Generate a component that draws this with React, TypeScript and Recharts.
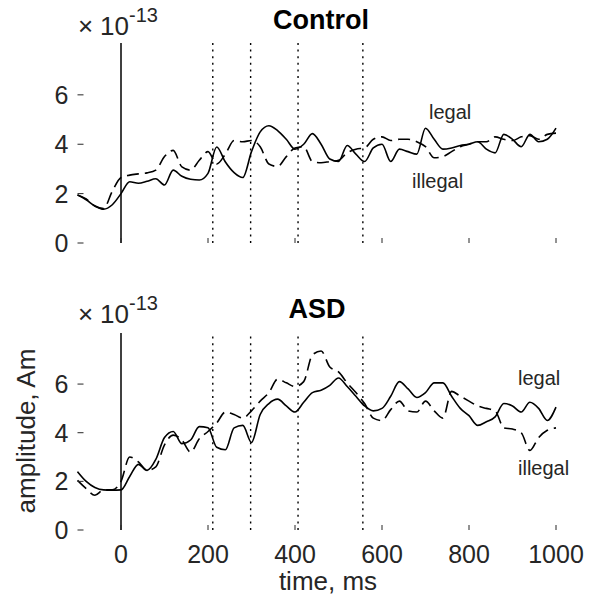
import React from 'react';
import { ComposedChart, Line, XAxis, YAxis, ReferenceLine } from 'recharts';

// time axis (ms) shared by all four traces
const times = [
  -100, -80, -60, -40, -20, 0, 20, 40, 60, 80, 100, 120, 140, 160, 180, 200,
  220, 240, 260, 280, 300, 320, 340, 360, 380, 400, 420, 440, 460, 480, 500,
  520, 540, 560, 580, 600, 620, 640, 660, 680, 700, 720, 740, 760, 780, 800,
  820, 840, 860, 880, 900, 920, 940, 960, 980, 1000,
];

// amplitudes in units of 1e-13 Am
const controlLegal = [
  1.95, 1.75, 1.5, 1.37, 1.55, 2.0, 2.48, 2.42, 2.5, 2.6, 2.35, 2.95, 2.7, 2.58, 2.55, 2.82,
  3.89, 3.28, 2.85, 2.65, 3.7, 4.5, 4.75, 4.55, 4.2, 3.8, 4.0, 4.43, 4.0, 3.4, 3.3,
  3.95, 3.6, 3.3, 3.85, 4.0, 3.3, 3.8, 3.7, 3.6, 4.65, 4.2, 3.8, 3.85, 3.95, 4.0,
  4.1, 3.8, 3.65, 4.4, 4.2, 3.9, 4.4, 4.1, 4.2, 4.65,
];
const controlIllegal = [
  1.94, 1.78, 1.5, 1.4, 2.1, 2.65, 2.75, 2.8, 2.84, 2.95, 3.5, 3.75, 3.08, 2.95, 3.35, 3.7,
  3.2, 3.6, 4.15, 4.1, 4.15, 3.9, 3.2, 3.1, 3.5, 3.85, 3.9, 3.3, 3.25, 3.3, 3.35,
  3.65, 3.8, 3.85, 4.2, 4.3, 4.15, 4.2, 4.2, 4.1, 3.9, 3.45, 3.5, 3.7, 3.9, 4.0,
  4.1, 4.1, 4.3, 4.2, 4.15, 4.3, 4.35, 4.2, 4.4, 4.45,
];
const asdLegal = [
  2.4, 2.0, 1.75, 1.65, 1.64, 1.65, 2.2, 2.7, 2.45, 2.9, 3.8, 4.05, 3.55, 3.7, 4.25, 4.2,
  3.4, 3.3, 4.2, 4.3, 3.6, 4.75, 5.2, 5.38, 5.1, 4.85, 5.25, 5.65, 5.75, 5.95, 6.25,
  5.9, 5.5, 5.1, 4.9, 5.0, 5.5, 6.1, 5.8, 5.45, 5.65, 6.05, 6.05, 5.5, 5.0, 4.7,
  4.3, 4.45, 4.65, 5.2, 5.1, 4.85, 5.25, 5.0, 4.5, 5.05,
];
const asdIllegal = [
  2.04, 1.7, 1.43, 1.65, 1.65, 2.0, 3.0, 2.8, 2.45, 2.6, 3.5, 3.9, 3.7, 3.2, 3.75, 4.05,
  4.4, 4.85, 4.75, 4.6, 4.9, 5.3, 5.65, 6.2, 6.05, 5.9, 6.1, 7.2, 7.36, 6.7, 6.5,
  6.05, 5.65, 5.2, 4.6, 4.5, 4.95, 5.3, 4.9, 4.85, 5.3, 4.9, 4.6, 5.7, 5.5, 5.3,
  5.1, 5.0, 4.9, 4.2, 4.15, 4.0, 3.27, 3.8, 4.1, 4.2,
];

const xTicks = [0, 200, 400, 600, 800, 1000];
const yTicks = [0, 2, 4, 6];
const markers = [211, 298, 407, 556];

const FONT = '"Liberation Sans", Arial, Helvetica, sans-serif';
const INK = '#262626';

function Panel({ legal, illegal, top, height, axisHeight, showLabels }: any) {
  const data = times.map((t, i) => ({ t, legal: legal[i], illegal: illegal[i] }));

  const yTick = (p: any) => (
    <g>
      <line x1={p.x} x2={p.x + 6} y1={p.y} y2={p.y} stroke={INK} strokeWidth={1} />
      <text x={p.x - 9} y={p.y} dy="0.36em" textAnchor="end" fontSize={25} fill={INK} fontFamily={FONT}>
        {p.payload.value}
      </text>
    </g>
  );

  const xTick = (p: any) => (
    <g>
      <line x1={p.x} x2={p.x} y1={p.y - 5} y2={p.y} stroke={INK} strokeWidth={1} />
      {showLabels && (
        <text x={p.x} y={p.y + 33} textAnchor="middle" fontSize={25} fill={INK} fontFamily={FONT}>
          {p.payload.value}
        </text>
      )}
    </g>
  );

  return (
    <div style={{ position: 'absolute', left: 0, top }}>
      <ComposedChart width={590} height={height} data={data} margin={{ top: 43, right: 34, bottom: 0, left: 0 }}>
        <XAxis
          type="number"
          dataKey="t"
          domain={[-100, 1000]}
          ticks={xTicks}
          interval={0}
          axisLine={false}
          tickLine={false}
          tickSize={0}
          tickMargin={0}
          height={axisHeight}
          tick={xTick}
        />
        <YAxis
          type="number"
          domain={[0, 8.1]}
          ticks={yTicks}
          interval={0}
          width={77.5}
          axisLine={false}
          tickLine={false}
          tickSize={0}
          tickMargin={0}
          tick={yTick}
        />
        <ReferenceLine x={0} stroke="#000" strokeWidth={1.5} />
        {markers.map((m) => (
          <ReferenceLine key={m} x={m} stroke="#000" strokeWidth={1.4} strokeDasharray="2 4.6" />
        ))}
        <Line
          type="monotone"
          dataKey="illegal"
          stroke="#000"
          strokeWidth={1.6}
          strokeDasharray="12 6"
          dot={false}
          isAnimationActive={false}
        />
        <Line
          type="monotone"
          dataKey="legal"
          stroke="#000"
          strokeWidth={1.6}
          dot={false}
          isAnimationActive={false}
        />
      </ComposedChart>
    </div>
  );
}

function Multiplier({ y }: { y: number }) {
  return (
    <text y={y} fontFamily={FONT} fill={INK}>
      <tspan x={78} fontSize={26}>×</tspan>
      <tspan x={100} fontSize={26}>10</tspan>
      <tspan x={129} dy={-13} fontSize={20}>-13</tspan>
    </text>
  );
}

export default function App() {
  return (
    <div style={{ position: 'absolute', left: 0, top: 0, width: 590, height: 598, background: '#fff' }}>
      <Panel legal={controlLegal} illegal={controlIllegal} top={0} height={270} axisHeight={27} showLabels={false} />
      <Panel legal={asdLegal} illegal={asdIllegal} top={290} height={308} axisHeight={68} showLabels />
      <svg
        width={590}
        height={598}
        style={{ position: 'absolute', left: 0, top: 0, pointerEvents: 'none' }}
      >
        <text x={321} y={29} textAnchor="middle" fontSize={27} fontWeight="bold" fontFamily={FONT} fill="#000">
          Control
        </text>
        <text x={317} y={318} textAnchor="middle" fontSize={27} fontWeight="bold" fontFamily={FONT} fill="#000">
          ASD
        </text>
        <Multiplier y={35} />
        <Multiplier y={323} />
        <text x={429} y={119} fontSize={20} fontFamily={FONT} fill={INK}>legal</text>
        <text x={412} y={188} fontSize={20} fontFamily={FONT} fill={INK}>illegal</text>
        <text x={518} y={385} fontSize={20} fontFamily={FONT} fill={INK}>legal</text>
        <text x={518} y={475} fontSize={20} fontFamily={FONT} fill={INK}>illegal</text>
        <text x={328} y={590} textAnchor="middle" fontSize={26} fontFamily={FONT} fill={INK}>
          time, ms
        </text>
        <text
          transform="translate(35,431) rotate(-90)"
          textAnchor="middle"
          fontSize={26}
          fontFamily={FONT}
          fill={INK}
        >
          amplitude, Am
        </text>
      </svg>
    </div>
  );
}
